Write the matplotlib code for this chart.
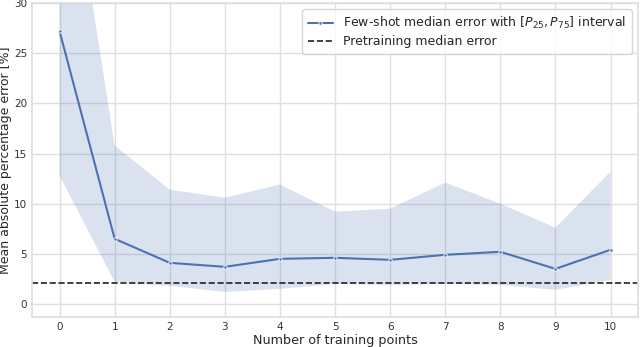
import matplotlib
matplotlib.use("Agg")
import matplotlib.pyplot as plt
import seaborn as sns
import numpy as np

n_points = [0, 1, 2, 3, 4, 5, 6, 7, 8, 9, 10]
median_err = [27.2, 6.5, 4.1, 3.7, 4.5, 4.6, 4.4, 4.9, 5.2, 3.5, 5.4]
p25_err = [12.8, 2.2, 1.8, 1.2, 1.5, 2.0, 1.9, 2.0, 1.9, 1.4, 2.4]
p75_err = [51.0, 15.8, 11.4, 10.6, 11.9, 9.2, 9.5, 12.1, 10.0, 7.6, 13.2]
pretrain_err = 2.1

sns.set_theme(style="whitegrid", rc={"grid.color": "#dedee3", "axes.edgecolor": "#dedee3"})
plt.rcParams['font.family'] = ['DejaVu Sans']

fig, ax = plt.subplots(figsize=(6.4, 3.47), dpi=100)
color = "#4c72b0"
ax.fill_between(n_points, p25_err, p75_err, color=color, alpha=0.2, linewidth=0)
ax.plot(n_points, median_err, color=color, marker=".", markersize=5,
        markeredgecolor="white", markeredgewidth=0.6, linewidth=1.5,
        label="Few-shot median error with $[P_{25}, P_{75}]$ interval")
ax.axhline(pretrain_err, color="#222222", linestyle="--", linewidth=1.2,
           label="Pretraining median error")

ax.set_xlim(-0.5, 10.5)
ax.set_ylim(-1.3, 30)
ax.set_xticks(n_points)
ax.set_yticks([0, 5, 10, 15, 20, 25, 30])
ax.tick_params(axis="both", labelsize=7.5, pad=3.5, length=0, labelcolor="#333333")
ax.set_xlabel("Number of training points", fontsize=9.2, labelpad=1.5)
ax.set_ylabel("Mean absolute percentage error [%]", fontsize=9, labelpad=1.5)
ax.legend(loc="upper right", fontsize=9, frameon=True, borderpad=0.45,
          handlelength=2.0, labelspacing=0.35)

fig.subplots_adjust(left=0.05, right=0.997, top=0.991, bottom=0.0865)
fig.savefig("out.png", dpi=100)
